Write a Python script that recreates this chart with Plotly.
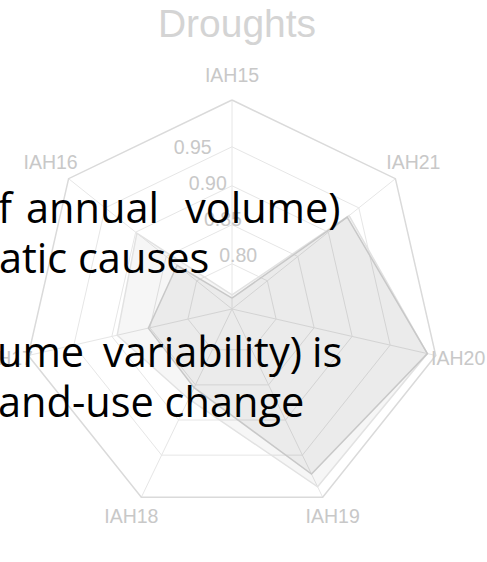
import plotly.graph_objects as go

W, H = 487, 562

categories = ["IAH15", "IAH16", "IAH17", "IAH18", "IAH19", "IAH20", "IAH21"]
series_a = [0.756, 0.832, 0.852, 0.854, 0.977, 0.999, 0.931]
series_b = [0.760, 0.898, 0.893, 0.870, 0.995, 0.999, 0.934]
radial_ticks = [0.80, 0.85, 0.90, 0.95]
radial_range = [0.742, 1.010]
title_text = "Droughts"

# overlay text words: (text, left px, baseline px)
overlay_words = [
    ("f", -3, 223), ("annual", 25, 223), ("volume)", 184, 223),
    ("atic causes", -2, 273),
    ("ume", -4, 367), ("variability)", 102, 367), ("is", 311, 367),
    ("and-use change", -3, 417),
]
OVERLAY_SIZE = 41.5

def closed(v):
    return list(v) + [v[0]]

label_color = "rgb(200,200,200)"
grid_color = "rgb(230,230,230)"

# geometry of the plot area (pixels)
CX, CY, R = 232, 309, 209
R2 = 232          # overlay label layer radius
LABEL_SHIFT = 12  # radial tick labels sit a little further out along their axis
px_per_unit = R / (radial_range[1] - radial_range[0])
r0_labels = radial_range[0] - LABEL_SHIFT / px_per_unit
label_range = [r0_labels, r0_labels + R2 / px_per_unit]

fig = go.Figure()
fig.add_trace(go.Scatterpolar(
    r=closed(series_b), theta=closed(categories), mode="lines",
    fill="toself", fillcolor="rgba(0,0,0,0.035)",
    line=dict(color="rgb(226,226,226)", width=1.5), showlegend=False,
    subplot="polar"))
fig.add_trace(go.Scatterpolar(
    r=closed(series_a), theta=closed(categories), mode="lines",
    fill="toself", fillcolor="rgba(0,0,0,0.045)",
    line=dict(color="rgb(200,200,200)", width=1.5), showlegend=False,
    subplot="polar"))
# category labels on a transparent overlay polar layer, centred outside the ring
fig.add_trace(go.Scatterpolar(
    r=[label_range[1]] * len(categories), theta=categories, mode="text",
    text=categories, textposition="middle center", cliponaxis=False,
    textfont=dict(family="Liberation Sans", size=19.5, color=label_color),
    showlegend=False, hoverinfo="skip", subplot="polar2"))

fig.update_layout(
    width=W, height=H, margin=dict(l=0, r=0, t=0, b=0),
    paper_bgcolor="white", plot_bgcolor="white",
    title=dict(text=title_text, x=237 / W, xanchor="center",
               y=1 - 23 / H, yanchor="middle",
               font=dict(family="Liberation Sans", size=39, color="rgb(212,212,212)")),
    polar=dict(
        domain=dict(x=[(CX - R) / W, (CX + R) / W], y=[1 - (CY + R) / H, 1 - (CY - R) / H]),
        bgcolor="white", gridshape="linear",
        angularaxis=dict(type="category", categoryarray=categories,
                         direction="counterclockwise", rotation=90,
                         ticks="", showticklabels=False,
                         linecolor="rgb(218,218,218)", linewidth=1.5,
                         gridcolor=grid_color),
        radialaxis=dict(range=radial_range, tickvals=radial_ticks,
                        showticklabels=False, showline=False, ticks="",
                        gridcolor=grid_color),
    ),
    polar2=dict(
        domain=dict(x=[(CX - R2) / W, (CX + R2) / W], y=[1 - (CY + R2) / H, 1 - (CY - R2) / H]),
        bgcolor="rgba(0,0,0,0)",
        angularaxis=dict(type="category", categoryarray=categories,
                         direction="counterclockwise", rotation=90,
                         ticks="", showticklabels=False, showline=False, showgrid=False),
        radialaxis=dict(range=label_range, tickvals=radial_ticks,
                        ticktext=[f"{v:.2f}" for v in radial_ticks],
                        angle=112.9, tickangle=112.9, showline=False, showgrid=False,
                        ticks="",
                        tickfont=dict(family="Liberation Sans", size=19.5, color=label_color)),
    ),
)

for txt, x, base in overlay_words:
    fig.add_annotation(text=txt, xref="paper", yref="paper",
                       x=x / W, y=1 - (base - 0.39 * OVERLAY_SIZE) / H,
                       xanchor="left", yanchor="middle", showarrow=False,
                       borderpad=0,
                       font=dict(family="Open Sans", size=OVERLAY_SIZE, color="black"))

fig.write_html("out.html", config={"displayModeBar": False},
               post_script="document.body.style.margin='0';")
